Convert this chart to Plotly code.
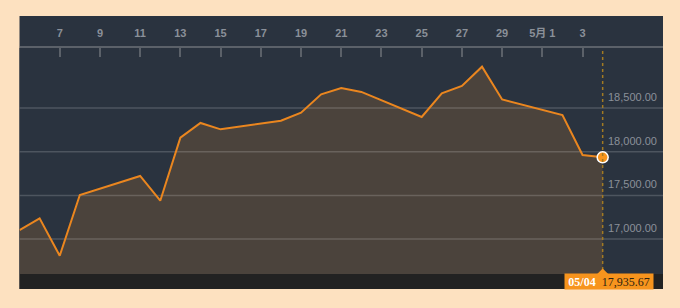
import plotly.graph_objects as go

# ---- data ----
dates = ["2016-04-05", "2016-04-06", "2016-04-07", "2016-04-08", "2016-04-11",
         "2016-04-12", "2016-04-13", "2016-04-14", "2016-04-15", "2016-04-18",
         "2016-04-19", "2016-04-20", "2016-04-21", "2016-04-22", "2016-04-25",
         "2016-04-26", "2016-04-27", "2016-04-28", "2016-04-29", "2016-05-02",
         "2016-05-03", "2016-05-04"]
values = [17103, 17237, 16809, 17504, 17722, 17439, 18160, 18329, 18256, 18355,
          18447, 18657, 18729, 18684, 18397, 18669, 18752, 18973, 18598, 18420,
          17962, 17935.67]

tick_dates = ["2016-04-05", "2016-04-07", "2016-04-09", "2016-04-11", "2016-04-13",
              "2016-04-15", "2016-04-17", "2016-04-19", "2016-04-21", "2016-04-23",
              "2016-04-25", "2016-04-27", "2016-04-29", "2016-05-01", "2016-05-03",
              "2016-05-07"]
tick_text = ["", "7", "9", "11", "13", "15", "17", "19", "21", "23", "25", "27",
             "29", "5月 1", "3", ""]
grid_values = [17000, 17500, 18000, 18500]
x_range = ["2016-04-05", "2016-05-07"]
y_range = [16600, 19187]
last_label_date = "05/04"
last_label_value = "17,935.67"

W, H = 680, 308
def px_x(p): return p / W
def px_y(p): return (H - p) / H

BG = "#2a333f"
FILL = "#4b433c"
ORANGE = "#ea861f"
LABEL = "#8a9099"

fig = go.Figure()

# area fill (no line)
fig.add_trace(go.Scatter(x=dates, y=values, mode="lines", fill="tozeroy",
                         fillcolor=FILL, line=dict(width=0), hoverinfo="skip"))
# gridlines drawn over the fill but beneath the series line
for gv in grid_values:
    fig.add_trace(go.Scatter(x=x_range, y=[gv, gv], mode="lines",
                             line=dict(color="rgba(255,255,255,0.17)", width=1.5),
                             hoverinfo="skip"))
# series line
fig.add_trace(go.Scatter(x=dates, y=values, mode="lines",
                         line=dict(color=ORANGE, width=2), hoverinfo="skip"))
# last point marker
fig.add_trace(go.Scatter(x=[dates[-1]], y=[values[-1]], mode="markers",
                         marker=dict(size=11, color="#f7941d",
                                     line=dict(color="white", width=1.5)),
                         hoverinfo="skip"))

shapes = [
    # dark panel
    dict(type="rect", xref="paper", yref="paper", x0=px_x(19.5), x1=px_x(663),
         y0=px_y(289), y1=px_y(16), fillcolor=BG, line=dict(width=0), layer="below"),
    # black strip at bottom
    dict(type="rect", xref="paper", yref="paper", x0=px_x(19.5), x1=px_x(663),
         y0=px_y(289), y1=px_y(274), fillcolor="#222222", line=dict(width=0), layer="above"),
    # dotted crosshair
    dict(type="line", xref="x", yref="paper", x0=dates[-1], x1=dates[-1],
         y0=px_y(270), y1=px_y(48), line=dict(color="#a27a22", width=1.5, dash="dot"),
         layer="above"),
    # tooltip pointer
    dict(type="path", xref="x", yref="paper", xsizemode="pixel", ysizemode="pixel",
         xanchor=dates[-1], yanchor=px_y(274.5), path="M -6,0 L 0,6 L 6,0 Z",
         fillcolor="#f7941d", line=dict(width=0), layer="above"),
]

annotations = []
for gv in grid_values:
    annotations.append(dict(xref="paper", yref="y", x=px_x(606), y=gv,
                            xanchor="left", yanchor="bottom", yshift=3,
                            text=f"{gv:,.2f}", showarrow=False,
                            font=dict(family="Liberation Sans, Arial", size=11, color=LABEL)))
annotations.append(dict(xref="x", yref="paper", x=dates[-1], y=px_y(281.7), xshift=6,
                        xanchor="center", yanchor="middle", showarrow=False,
                        text=f"<b>{last_label_date}</b>  <span style='color:#2e2210'>{last_label_value}</span>",
                        bgcolor="#f7941d", width=86, height=13, borderpad=1,
                        font=dict(family="Liberation Serif, Georgia", size=12, color="white")))

fig.update_layout(
    width=W, height=H, margin=dict(l=0, r=0, t=0, b=0),
    paper_bgcolor="#fde1c0", plot_bgcolor=BG, showlegend=False,
    shapes=shapes, annotations=annotations,
    xaxis=dict(type="date", range=x_range, domain=[px_x(19.5), px_x(663)],
               side="top", tickmode="array", tickvals=tick_dates, ticktext=tick_text,
               ticks="inside", ticklen=9, tickwidth=1.5, tickcolor="#5b6169",
               showline=True, linecolor="#5b6169", linewidth=2, showgrid=False,
               zeroline=False, ticklabelstandoff=5,
               tickfont=dict(family="Liberation Sans, Noto Sans CJK SC, Arial", size=11,
                             color=LABEL, weight="bold")),
    yaxis=dict(range=y_range, domain=[px_y(274), px_y(48)], showgrid=False,
               zeroline=False, showticklabels=False, showline=False),
)

fig.write_html("out.html")
